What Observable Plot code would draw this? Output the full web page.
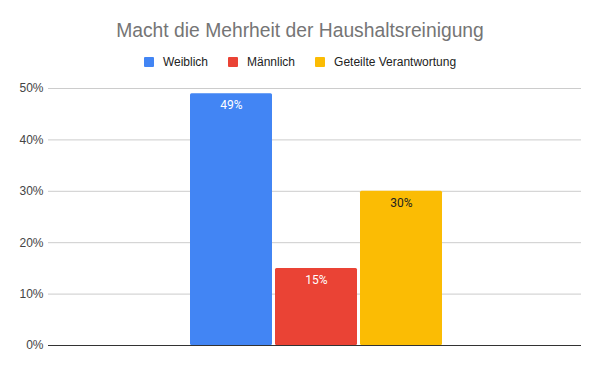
<!DOCTYPE html>
<html>
<head>
<meta charset="utf-8">
<script src="https://cdn.jsdelivr.net/npm/d3@7"></script>
<script src="https://cdn.jsdelivr.net/npm/@observablehq/plot@0.6"></script>
<style>
  html, body { margin: 0; padding: 0; background: #fff; }
  #wrap { position: relative; width: 600px; height: 371px; overflow: hidden; font-family: "Liberation Sans", Arial, sans-serif; }
  #title { position: absolute; left: 0; top: 19px; width: 600px; text-align: center; font-size: 19.3px; line-height: 24px; color: #757575; }
  #legend { position: absolute; left: 0; top: 55px; width: 600px; display: flex; justify-content: center; font-size: 12px; line-height: 14px; color: #222; }
  .item { display: flex; align-items: center; margin: 0 10px; }
  .sw { width: 10px; height: 10px; margin-right: 9px; border-radius: 1px; }
  #chart { position: absolute; left: 0; top: 0; }
</style>
</head>
<body>
<div id="wrap">
  <div id="chart"></div>
  <div id="title"></div>
  <div id="legend"></div>
</div>
<script>
const titleText = "Macht die Mehrheit der Haushaltsreinigung";
const categories = ["Weiblich", "Männlich", "Geteilte Verantwortung"];
const values = [0.49, 0.15, 0.30];
const colors = ["#4285F4", "#EA4335", "#FBBC04"];
const labelColors = ["#ffffff", "#ffffff", "#222222"];
const yTicks = [0, 0.1, 0.2, 0.3, 0.4, 0.5];

const data = categories.map((c, i) => ({cat: c, value: values[i], labelColor: labelColors[i]}));

document.getElementById("title").textContent = titleText;
const legend = document.getElementById("legend");
categories.forEach((c, i) => {
  const it = document.createElement("div");
  it.className = "item";
  const sw = document.createElement("div");
  sw.className = "sw";
  sw.style.background = colors[i];
  const tx = document.createElement("span");
  tx.textContent = c;
  it.appendChild(sw); it.appendChild(tx);
  legend.appendChild(it);
});

const fmt = d3.format(".0%");
const chart = Plot.plot({
  width: 600,
  height: 371,
  marginTop: 88,
  marginBottom: 26,
  marginLeft: 48,
  marginRight: 19,
  style: {fontFamily: "'Liberation Sans', Arial, sans-serif", fontSize: "12px", background: "transparent"},
  x: {type: "band", domain: categories, range: [190, 443], paddingInner: 0.03, paddingOuter: 0, axis: null},
  y: {domain: [0, 0.5], ticks: yTicks, tickFormat: fmt, label: null},
  color: {domain: categories, range: colors},
  marks: [
    Plot.gridY(yTicks, {stroke: "#cccccc", strokeOpacity: 1}),
    Plot.axisY(yTicks, {tickSize: 0, tickPadding: 5, tickFormat: fmt, fill: "#444444", fontSize: 12, label: null}),
    Plot.barY(data, {x: "cat", y: "value", fill: "cat", rx: 1.5}),
    Plot.text(data, {x: "cat", y: "value", text: d => fmt(d.value), fill: "labelColor", lineAnchor: "top", dy: 7, fontFamily: "Roboto, sans-serif", fontSize: 12}),
    Plot.ruleY([0], {stroke: "#333333", strokeWidth: 1})
  ]
});
document.getElementById("chart").appendChild(chart);
</script>
</body>
</html>
